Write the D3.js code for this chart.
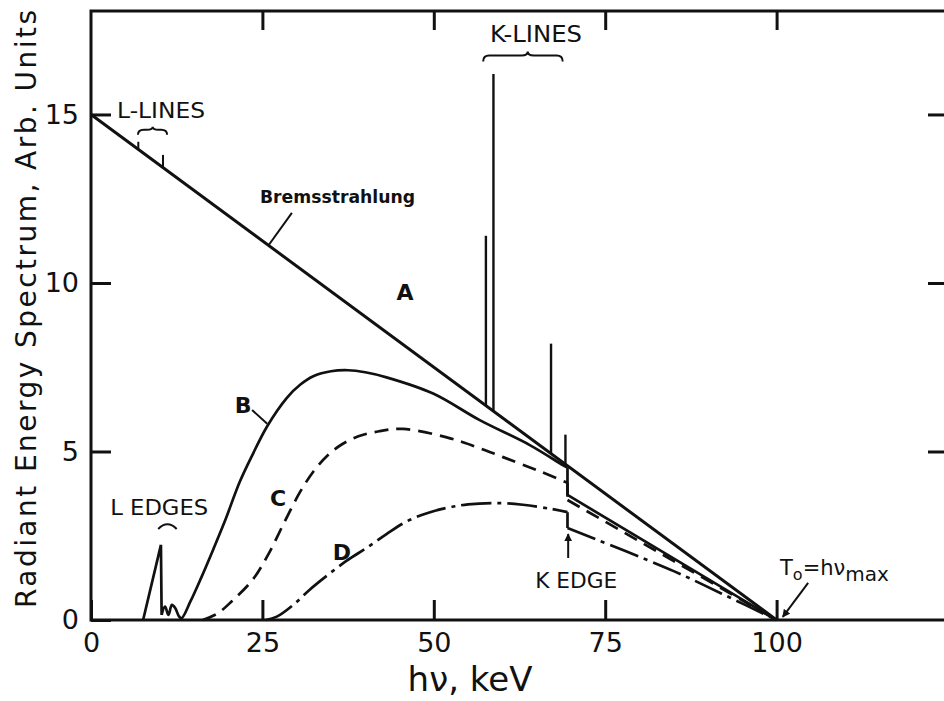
<!DOCTYPE html>
<html>
<head>
<meta charset="utf-8">
<script src="https://cdn.jsdelivr.net/npm/d3@7"></script>
<style>
  body { margin: 0; background: #fff; }
  svg text { font-family: "DejaVu Sans", sans-serif; fill: #111; }
</style>
</head>
<body>
<svg id="svg1" width="944" height="701"></svg>
<script>
'use strict';

// values: photon energy in keV, spectrum in arbitrary units
// A - unfiltered bremsstrahlung (straight line)
const curveAEnergy = [0, 100];
const curveAValue  = [15, 0];

// B - solid, with the L edges and the K edge
const curveBEnergy = [7.6, 10.2, 10.3, 10.8, 11.3, 11.8, 12.3, 12.8, 13.2, 14.5, 16, 17.8, 19.5, 21.7, 23.5, 25.7, 28.6, 30.5, 32.5, 35, 37.5, 40, 43.1, 49.9, 56.7, 64, 68.8, 69.5, 69.5, 100];
const curveBValue  = [0, 2.23, 0.15, 0.4, 0.15, 0.45, 0.35, 0.12, 0.05, 0.55, 1.22, 2.08, 2.92, 4.1, 4.88, 5.75, 6.6, 6.98, 7.24, 7.38, 7.41, 7.35, 7.2, 6.72, 5.93, 5.19, 4.6, 4.52, 3.71, 0];

// C - dashed
const curveCEnergy = [16.3, 18.5, 20.5, 23.6, 26, 28.2, 30.5, 32.5, 34.5, 36.5, 39, 42, 45.5, 51.9, 56, 60, 65, 69.5, 69.5, 100];
const curveCValue  = [0, 0.2, 0.55, 1.2, 2.0, 2.9, 3.8, 4.42, 4.88, 5.2, 5.45, 5.6, 5.67, 5.42, 5.15, 4.84, 4.45, 4.07, 3.56, 0];

// D - dash-dot
const curveDEnergy = [25.5, 27.1, 29.5, 31.9, 34.5, 37.3, 40.2, 43.1, 46, 49, 52, 55, 59.6, 63, 67, 69.5, 69.5, 85, 92, 100];
const curveDValue  = [0, 0.1, 0.45, 0.9, 1.33, 1.76, 2.14, 2.55, 2.92, 3.17, 3.33, 3.43, 3.47, 3.42, 3.3, 3.2, 2.73, 1.45, 0.78, 0];

// characteristic lines standing on curve A
const kLineEnergy = [57.6, 58.7, 67.1, 69.2];
const kLineBase   = [6.36, 6.2, 4.95, 4.62];
const kLineTop    = [11.4, 16.2, 8.2, 5.5];
const lLineEnergy = [6.9, 10.5];
const lLineBase   = [13.96, 13.43];
const lLineTop    = [14.19, 13.8];

const xTickValues = [0, 25, 50, 75, 100];
const yTickValues = [0, 5, 10, 15];
const xTitle = "hν, keV";
const yTitle = "Radiant Energy Spectrum, Arb. Units";


function drawChart() {
    let svg = d3.select("#svg1");
    let x = d3.scaleLinear().domain([0, 125]).range([91, 948]);
    let y = d3.scaleLinear().domain([0, 18.07]).range([620, 11]);
    let ink = "#111";

    // ticks on all four sides point inwards, labels only left and bottom
    svg.append("g")
        .attr("transform", `translate(0,${y(0)})`)
        .call(d3.axisBottom(x).tickValues(xTickValues).tickSize(-20).tickPadding(13))
        .call(g => g.select(".domain").remove())
        .call(g => g.selectAll(".tick line").attr("stroke", ink).attr("stroke-width", 3))
        .call(g => g.selectAll(".tick text").attr("font-size", 27).attr("fill", ink)
            .style("font-family", "'DejaVu Sans', sans-serif"));
    svg.append("g")
        .attr("transform", `translate(0,${y(18.07)})`)
        .call(d3.axisTop(x).tickValues(xTickValues.slice(1)).tickSize(-19).tickFormat(""))
        .call(g => g.select(".domain").remove())
        .call(g => g.selectAll(".tick line").attr("stroke", ink).attr("stroke-width", 3));
    svg.append("g")
        .attr("transform", `translate(${x(0)},0)`)
        .call(d3.axisLeft(y).tickValues(yTickValues).tickSize(-20).tickPadding(12))
        .call(g => g.select(".domain").remove())
        .call(g => g.selectAll(".tick line").attr("stroke", ink).attr("stroke-width", 3))
        .call(g => g.selectAll(".tick text").attr("font-size", 27).attr("fill", ink)
            .style("font-family", "'DejaVu Sans', sans-serif"));
    svg.append("g")
        .attr("transform", `translate(${x(125)},0)`)
        .call(d3.axisRight(y).tickValues(yTickValues.slice(1)).tickSize(-20).tickFormat(""))
        .call(g => g.select(".domain").remove())
        .call(g => g.selectAll(".tick line").attr("stroke", ink).attr("stroke-width", 3));

    // frame
    svg.append("rect")
        .attr("x", x(0)).attr("y", y(18.07))
        .attr("width", x(125) - x(0)).attr("height", y(0) - y(18.07))
        .attr("fill", "none").attr("stroke", ink).attr("stroke-width", 3);

    // axis titles
    svg.append("text")
        .attr("x", 470).attr("y", 691)
        .attr("text-anchor", "middle")
        .attr("font-size", 34)
        .text(xTitle);
    svg.append("text")
        .attr("transform", "translate(36,309) rotate(-90)")
        .attr("text-anchor", "middle")
        .attr("font-size", 28)
        .attr("textLength", 598).attr("lengthAdjust", "spacing")
        .text(yTitle);

    // split a series where the energy repeats (absorption edges) so the
    // jump is drawn straight and the rest is smoothed
    function pieces(xs, ys) {
        let out = [], cur = [[xs[0], ys[0]]];
        for (let i = 1; i < xs.length; i++) {
            if (xs[i] - xs[i - 1] < 0.15) {
                out.push(cur);
                out.push([[xs[i - 1], ys[i - 1]], [xs[i], ys[i]]]);
                cur = [[xs[i], ys[i]]];
            } else {
                cur.push([xs[i], ys[i]]);
            }
        }
        out.push(cur);
        return out;
    }
    let line = d3.line().x(d => x(d[0])).y(d => y(d[1])).curve(d3.curveCatmullRom.alpha(0.5));
    function drawCurve(xs, ys, dash, width) {
        let d = pieces(xs, ys).filter(p => p.length > 1).map(p => line(p)).join("");
        svg.append("path")
            .attr("d", d)
            .attr("fill", "none")
            .attr("stroke", ink)
            .attr("stroke-width", width)
            .attr("stroke-linejoin", "round")
            .attr("stroke-dasharray", dash);
    }
    drawCurve(curveAEnergy, curveAValue, null, 3);
    drawCurve(curveBEnergy, curveBValue, null, 2.7);
    drawCurve(curveCEnergy, curveCValue, "14,8", 2.7);
    drawCurve(curveDEnergy, curveDValue, "30,6,4,6", 2.7);

    // K and L characteristic lines
    svg.selectAll(".kline")
        .data(kLineEnergy)
        .enter().append("line")
        .attr("class", "kline")
        .attr("x1", d => x(d)).attr("x2", d => x(d))
        .attr("y1", (d, i) => y(kLineBase[i]))
        .attr("y2", (d, i) => y(kLineTop[i]))
        .attr("stroke", ink).attr("stroke-width", 2.4);
    svg.selectAll(".lline")
        .data(lLineEnergy)
        .enter().append("line")
        .attr("class", "lline")
        .attr("x1", d => x(d)).attr("x2", d => x(d))
        .attr("y1", (d, i) => y(lLineBase[i]))
        .attr("y2", (d, i) => y(lLineTop[i]))
        .attr("stroke", ink).attr("stroke-width", 2);

    // curly brace opening downwards
    function brace(x1, x2, xm, yb, depth, bump) {
        let r = Math.min(6, (x2 - x1) / 5);
        return `M${x1},${yb + depth} Q${x1},${yb} ${x1 + r},${yb} L${xm - r},${yb} ` +
            `Q${xm},${yb} ${xm},${yb - bump} Q${xm},${yb} ${xm + r},${yb} L${x2 - r},${yb} ` +
            `Q${x2},${yb} ${x2},${yb + depth}`;
    }
    let braces = [
        brace(x(6.85), x(11.1), x(9.0), y(14.55), 5, 3),
        brace(x(57.2), x(68.8), x(63.7), y(16.75), 6, 4)
    ];
    svg.selectAll(".brace")
        .data(braces)
        .enter().append("path")
        .attr("class", "brace")
        .attr("d", d => d)
        .attr("fill", "none").attr("stroke", ink).attr("stroke-width", 2);
    // small arch over the L edges
    svg.append("path")
        .attr("d", `M${x(9.8)},${y(2.7)} Q${x(11.15)},${y(2.98)} ${x(12.5)},${y(2.7)}`)
        .attr("fill", "none").attr("stroke", ink).attr("stroke-width", 2);

    // text labels
    let labels = [
        {t: "L-LINES", e: 3.8, v: 14.9, size: 22, len: 88},
        {t: "K-LINES", e: 58.2, v: 17.15, size: 23, len: 92},
        {t: "Bremsstrahlung", e: 24.65, v: 12.37, size: 17, len: 155, bold: true},
        {t: "L EDGES", e: 2.8, v: 3.12, size: 21, len: 98},
        {t: "K EDGE", e: 64.8, v: 0.95, size: 21, len: 82}
    ];
    svg.selectAll(".note")
        .data(labels)
        .enter().append("text")
        .attr("class", "note")
        .attr("x", d => x(d.e)).attr("y", d => y(d.v))
        .attr("font-size", d => d.size)
        .attr("font-weight", d => d.bold ? "bold" : "normal")
        .attr("textLength", d => d.len).attr("lengthAdjust", "spacingAndGlyphs")
        .text(d => d.t);

    let letters = [
        {t: "A", e: 45.8, v: 9.5},
        {t: "B", e: 22.2, v: 6.14},
        {t: "C", e: 27.3, v: 3.38},
        {t: "D", e: 36.6, v: 1.78}
    ];
    svg.selectAll(".letter")
        .data(letters)
        .enter().append("text")
        .attr("class", "letter")
        .attr("x", d => x(d.e)).attr("y", d => y(d.v))
        .attr("text-anchor", "middle")
        .attr("font-size", 22).attr("font-weight", "bold")
        .text(d => d.t);

    // T0 = hv max
    let t0 = svg.append("text")
        .attr("x", x(100.5)).attr("y", y(1.34))
        .attr("font-size", 21);
    t0.append("tspan").text("T");
    t0.append("tspan").attr("dy", 5).attr("font-size", 16).text("o");
    t0.append("tspan").attr("dy", -5).text("=hν");
    t0.append("tspan").attr("dy", 6).attr("font-size", 20).text("max");

    // leader lines
    let leaders = [
        [[29.3, 12.08], [25.9, 11.12]],
        [[23.5, 6.23], [25.7, 5.82]]
    ];
    svg.selectAll(".leader")
        .data(leaders)
        .enter().append("line")
        .attr("class", "leader")
        .attr("x1", d => x(d[0][0])).attr("y1", d => y(d[0][1]))
        .attr("x2", d => x(d[1][0])).attr("y2", d => y(d[1][1]))
        .attr("stroke", ink).attr("stroke-width", 2);

    // arrows
    svg.append("defs").append("marker")
        .attr("id", "head")
        .attr("viewBox", "0 0 10 10")
        .attr("refX", 9).attr("refY", 5)
        .attr("markerWidth", 4).attr("markerHeight", 4)
        .attr("markerUnits", "strokeWidth")
        .attr("orient", "auto")
        .append("path").attr("d", "M0,0 L10,5 L0,10 z").attr("fill", ink);
    let arrows = [
        [[69.6, 1.84], [69.6, 2.55]],
        [[104.6, 1.1], [100.9, 0.09]]
    ];
    svg.selectAll(".arrow")
        .data(arrows)
        .enter().append("line")
        .attr("class", "arrow")
        .attr("x1", d => x(d[0][0])).attr("y1", d => y(d[0][1]))
        .attr("x2", d => x(d[1][0])).attr("y2", d => y(d[1][1]))
        .attr("stroke", ink).attr("stroke-width", 2)
        .attr("marker-end", "url(#head)");
}

drawChart();
</script>
</body>
</html>
